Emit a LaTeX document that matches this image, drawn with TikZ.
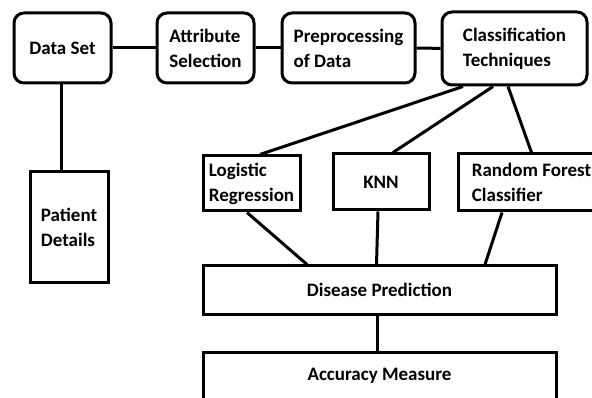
\documentclass[tikz,border=0pt]{standalone}
\usepackage{fontspec}
\setmainfont{Carlito}

\begin{document}
\begin{tikzpicture}[x=1pt,y=-1pt,
  box/.style={draw=black,line width=3pt,rectangle,inner sep=0pt,align=left,
    font=\bfseries\fontsize{19}{25}\selectfont},
  rbox/.style={box,rounded corners=10pt},
  link/.style={draw=black,line width=3pt}]
\useasboundingbox (0,0) rectangle (592,398);

% top row:
\node[rbox,minimum width=97pt,minimum height=70pt] (dataset) at (62.5,48) {Data Set};
\node[rbox,minimum width=97pt,minimum height=70pt] (attrsel) at (205.5,48) {Attribute\\Selection};
\node[rbox,minimum width=133pt,minimum height=70pt] (preproc) at (348.5,48) {Preprocessing\\of Data};
\node[rbox,minimum width=145pt,minimum height=73pt] (classtech) at (514.5,48.5) {Classification\\Techniques};
\node[box,minimum width=78pt,minimum height=111pt] (patient) at (69,227.5) {Patient\\Details};

% classifiers:
\node[box,minimum width=97pt,minimum height=55pt] (logreg) at (251.5,183.5) {Logistic\\Regression};
\node[box,minimum width=96pt,minimum height=56pt] (knn) at (381,182) {KNN};
\node[box,minimum width=147pt,minimum height=57pt] (ranfor) at (531.5,182.5) {Random Forest\\Classifier};

% results:
\node[box,minimum width=353pt,minimum height=48pt] (predict) at (379.5,290) {Disease Prediction};
\node[box,minimum width=353pt,minimum height=48pt] (accuracy) at (379.5,376) {Accuracy Measure};

\draw[link] (dataset) -- (attrsel);
\draw[link] (attrsel) -- (preproc);
\draw[link] (preproc) -- (classtech);
\draw[link] ([xshift=-1.5pt]dataset.south) -- ([xshift=-8pt]patient.north);
\draw[link] ([xshift=-51.5pt]classtech.south) -- ([xshift=8.5pt]logreg.north);
\draw[link] ([xshift=-21.5pt]classtech.south) -- ([xshift=12pt]knn.north);
\draw[link] ([xshift=-6.5pt]classtech.south) -- (ranfor.north);
\draw[link] ([xshift=-4.5pt]logreg.south) -- ([xshift=-72.5pt]predict.north);
\draw[link] ([xshift=-3pt]knn.south) -- ([xshift=-3pt]predict.north);
\draw[link] ([xshift=-29.5pt]ranfor.south) -- ([xshift=105.5pt]predict.north);
\draw[link] ([xshift=-2.5pt]predict.south) -- ([xshift=-2.5pt]accuracy.north);

\end{tikzpicture}
\end{document}
